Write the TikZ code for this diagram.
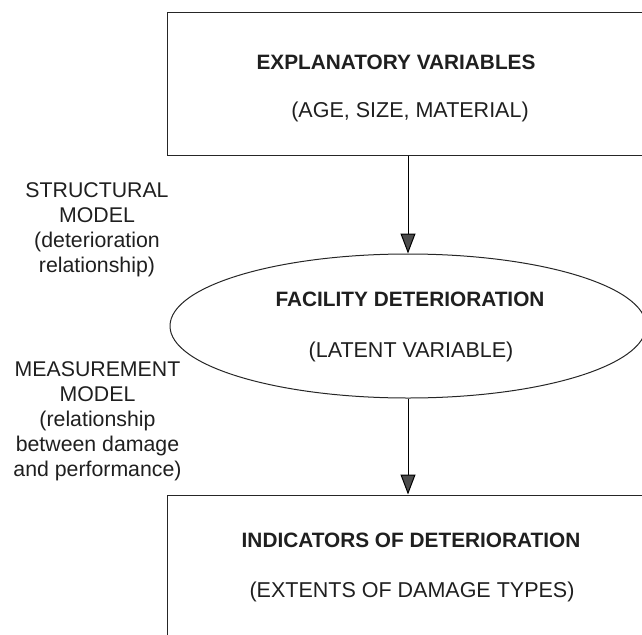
\documentclass[tikz,border=0pt]{standalone}
\usepackage{fontspec}
\setmainfont{Liberation Sans}
\usetikzlibrary{shapes.geometric,arrows.meta}
\begin{document}
\begin{tikzpicture}[x=1pt,y=1pt,
  frame/.style={draw=black!85,line width=1pt,inner sep=0pt},
  title/.style={font=\fontsize{20.8}{24}\selectfont\bfseries,text=black!88,inner sep=0pt},
  sub/.style={font=\fontsize{21.5}{24}\selectfont,text=black!88,inner sep=0pt},
  side/.style={font=\fontsize{21.3}{25}\selectfont,text=black!88,align=center,inner sep=0pt},
  arr/.style={draw=black,line width=1pt,-{Triangle[length=20pt,width=15pt,fill=black!70]}}]
\useasboundingbox (0,0) rectangle (642,-634);
\clip (0,0) rectangle (642,-634);
\node[frame,minimum width=533pt,minimum height=142pt] (top) at (433.5,-84) {};
\node[frame,minimum width=533pt,minimum height=205pt] (bot) at (433.5,-597.5) {};
\node[frame,ellipse,minimum width=476pt,minimum height=144pt] (ell) at (408,-326) {};
\node[title] (t1) at (396,-62) {EXPLANATORY VARIABLES};
\node[sub] (t2) at (410,-112) {(AGE, SIZE, MATERIAL)};
\node[title] (e1) at (410,-299) {FACILITY DETERIORATION};
\node[sub] (e2) at (411,-352) {(LATENT VARIABLE)};
\node[title] (b1) at (411,-540) {INDICATORS OF DETERIORATION};
\node[sub] (b2) at (412,-592) {(EXTENTS OF DAMAGE TYPES)};
\node[side] (s1) at (97,-230) {STRUCTURAL\\MODEL\\(deterioration\\relationship)};
\node[side] (s2) at (97.5,-421) {MEASUREMENT\\MODEL\\(relationship\\between damage\\and performance)};
\draw[arr] (ell.north |- top.south) -- (ell.north);
\draw[arr] (ell.south) -- (ell.south |- bot.north);
\end{tikzpicture}
\end{document}
